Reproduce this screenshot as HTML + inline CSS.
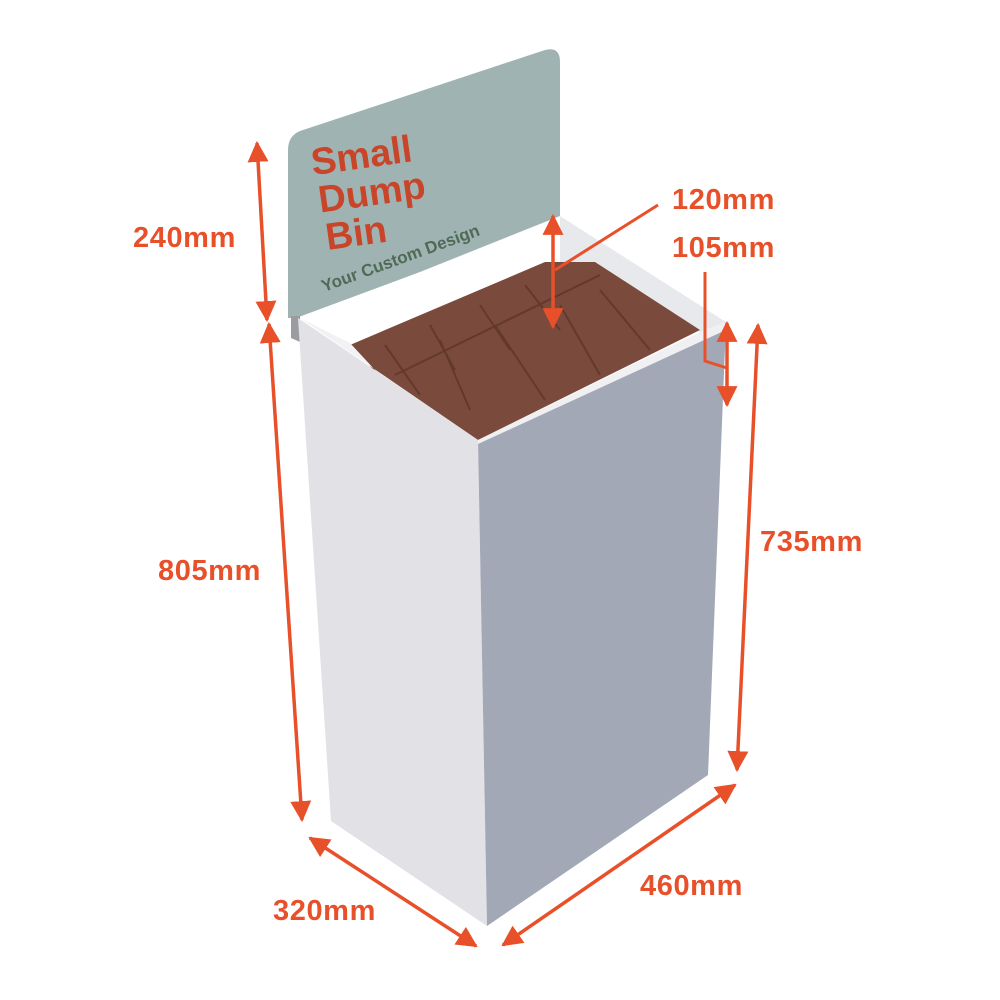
<!DOCTYPE html>
<html><head><meta charset="utf-8"><style>
html,body{margin:0;padding:0;background:#fff;}
svg{display:block;}
.l{font-family:"Liberation Sans",sans-serif;font-weight:bold;font-size:29px;letter-spacing:0.6px;fill:#e8502a;}
</style></head><body>
<svg width="1000" height="1000" viewBox="0 0 1000 1000" xmlns="http://www.w3.org/2000/svg">
<defs>
<marker id="a" viewBox="0 0 10 10" refX="9" refY="5" markerWidth="6" markerHeight="6" orient="auto-start-reverse" markerUnits="strokeWidth">
<path d="M0,0 L10,5 L0,10 z" fill="#e8502a"/></marker>
</defs>
<path d="M288,150 Q288,136 300,131 L545,50 Q560,46 560,62 L560,216 L420,272 L296,318 L288,318 Z" fill="#9fb3b2"/>
<path d="M291,316 L300,316 L300,342 L291,338 Z" fill="#9a9ca0"/>
<text font-family="Liberation Sans,sans-serif" font-weight="bold" font-size="38" fill="#c9452a" transform="rotate(-8 315 175)">
<tspan x="313" y="175">Small</tspan><tspan x="315" y="213">Dump</tspan><tspan x="317" y="251">Bin</tspan></text>
<text x="324" y="292" font-family="Liberation Sans,sans-serif" font-weight="bold" font-size="17" fill="#4f6b58" transform="rotate(-20 324 292)">Your Custom Design</text>
<path d="M560,216 L726,322 L700,332 L560,262 Z" fill="#e8e9ec"/>
<path d="M350,345 L545,262 L595,262 L700,330 L478,440 L440,440 Z" fill="#7a4a3c"/>
<g stroke="#5a3328" stroke-width="2" fill="none" opacity="0.7">
<path d="M395,375 L600,275"/><path d="M385,345 L420,395"/><path d="M430,325 L455,370"/>
<path d="M480,305 L510,350"/><path d="M525,285 L560,330"/><path d="M440,340 L470,410"/>
<path d="M495,325 L545,400"/><path d="M560,305 L600,375"/><path d="M600,290 L650,350"/>
</g>
<path d="M300,318 L350,343 L440,440 L478,440 Z" fill="#f2f2f4"/>
<path d="M298,318 L478,440 L487,926 L331,821 Z" fill="#e2e2e6"/>
<path d="M478,440 L726,322 L708,775 L487,926 Z" fill="#a3a8b6"/>
<path d="M700,332 L726,322 L726,330 L478,444 L478,440 Z" fill="#f0f0f2"/>
<g stroke="#e8502a" stroke-width="3.5" fill="none">
<line x1="257" y1="143" x2="267" y2="320" marker-start="url(#a)" marker-end="url(#a)"/>
<line x1="269" y1="324" x2="302" y2="820" marker-start="url(#a)" marker-end="url(#a)"/>
<line x1="310" y1="838" x2="476" y2="946" marker-start="url(#a)" marker-end="url(#a)"/>
<line x1="503" y1="945" x2="735" y2="785" marker-start="url(#a)" marker-end="url(#a)"/>
<line x1="758" y1="325" x2="737" y2="770" marker-start="url(#a)" marker-end="url(#a)"/>
<line x1="727" y1="323" x2="727" y2="405" marker-start="url(#a)" marker-end="url(#a)"/>
<line x1="553" y1="216" x2="553" y2="327" marker-start="url(#a)" marker-end="url(#a)"/>
<polyline points="705,272 705,361 727,368" stroke-width="3"/>
<line x1="658" y1="205" x2="555" y2="270" stroke-width="3"/>
</g>
<text class="l" x="133" y="247">240mm</text>
<text class="l" x="158" y="580">805mm</text>
<text class="l" x="273" y="920">320mm</text>
<text class="l" x="640" y="895">460mm</text>
<text class="l" x="760" y="551">735mm</text>
<text class="l" x="672" y="209">120mm</text>
<text class="l" x="672" y="257">105mm</text>
</svg>
</body></html>
